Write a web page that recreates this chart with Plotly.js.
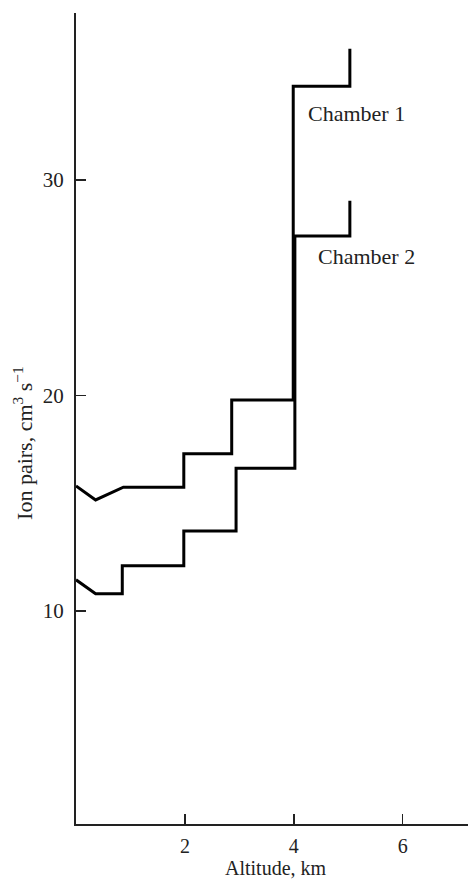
<!DOCTYPE html>
<html>
<head>
<meta charset="utf-8">
<script src="https://cdn.plot.ly/plotly-3.0.1.min.js"></script>
<style>html,body{margin:0;padding:0;background:#fff;}#chart{width:468px;height:881px;}</style>
</head>
<body>
<div id="chart"></div>
<script>
// Chamber 1 (upper curve): altitude (km) and ion pairs (cm^3 s^-1)
const chamber1Altitude = [0, 0.36, 0.87, 1.98, 1.98, 2.86, 2.86, 3.99, 3.99, 5.03, 5.03];
const chamber1IonPairs = [15.8, 15.15, 15.74, 15.74, 17.29, 17.29, 19.79, 19.79, 34.36, 34.36, 36.1];
// Chamber 2 (lower curve)
const chamber2Altitude = [0, 0.36, 0.85, 0.85, 1.98, 1.98, 2.94, 2.94, 4.02, 4.02, 5.03, 5.03];
const chamber2IonPairs = [11.44, 10.79, 10.79, 12.09, 12.09, 13.71, 13.71, 16.62, 16.62, 27.4, 27.4, 29.04];
const seriesNames = ["Chamber 1", "Chamber 2"];
const xTickValues = [2, 4, 6];
const yTickValues = [10, 20, 30];

const font = {family: "Liberation Serif, Times New Roman, serif", size: 22, color: "#222"};
const tickFont = {family: "Liberation Serif, Times New Roman, serif", size: 21, color: "#222"};
const xTickFont = {family: "Liberation Serif, Times New Roman, serif", size: 20, color: "#222"};
const xTitleFont = {family: "Liberation Serif, Times New Roman, serif", size: 20, color: "#222"};
const lineStyle = {color: "#000", width: 3, shape: "linear"};

const traces = [
  {x: chamber1Altitude, y: chamber1IonPairs, name: seriesNames[0], mode: "lines", line: lineStyle, hoverinfo: "skip"},
  {x: chamber2Altitude, y: chamber2IonPairs, name: seriesNames[1], mode: "lines", line: lineStyle, hoverinfo: "skip"}
];

const layout = {
  width: 468, height: 881,
  margin: {l: 76, r: 0, t: 13, b: 57},
  paper_bgcolor: "#fff", plot_bgcolor: "#fff",
  showlegend: false,
  font: font,
  xaxis: {
    range: [0, 7.2], tickvals: xTickValues, ticks: "inside", ticklen: 10, tickwidth: 1.5, tickcolor: "#222",
    showline: true, linecolor: "#222", linewidth: 2, showgrid: false, zeroline: false,
    tickfont: xTickFont, ticklabelstandoff: 3
  },
  yaxis: {
    range: [0.1, 37.76], tickvals: yTickValues, ticks: "inside", ticklen: 10, tickwidth: 1.5, tickcolor: "#222",
    showline: true, linecolor: "#222", linewidth: 2, showgrid: false, zeroline: false,
    tickfont: tickFont, ticklabelstandoff: 6
  },
  annotations: [
    {x: 5.16, y: 33.08, xref: "x", yref: "y", text: seriesNames[0], showarrow: false, font: font, xanchor: "center", yanchor: "middle"},
    {x: 5.33, y: 26.45, xref: "x", yref: "y", text: seriesNames[1], showarrow: false, font: font, xanchor: "center", yanchor: "middle"},
    {x: -0.135, y: 0.47, xref: "paper", yref: "paper", text: "Ion pairs, cm<sup>3</sup> s<sup>−1</sup>", textangle: -90, showarrow: false, font: font, xanchor: "center", yanchor: "middle"},
    {x: 0.51, y: -0.0703, xref: "paper", yref: "paper", text: "Altitude, km", showarrow: false, font: xTitleFont, xanchor: "center", yanchor: "bottom"}
  ]
};

Plotly.newPlot("chart", traces, layout, {staticPlot: true, displayModeBar: false});
</script>
</body>
</html>
